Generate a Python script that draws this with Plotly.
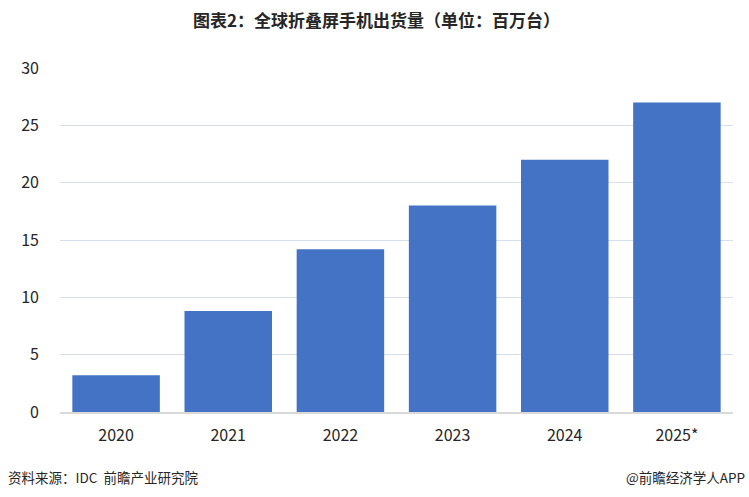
import plotly.graph_objects as go

years = ["2020", "2021", "2022", "2023", "2024", "2025*"]
shipments = [3.2, 8.8, 14.2, 18.0, 22.0, 27.0]
y_ticks = [0, 5, 10, 15, 20, 25, 30]

title_text = "图表2：全球折叠屏手机出货量（单位：百万台）"
source_text = "资料来源：IDC  前瞻产业研究院"
brand_text = "@前瞻经济学人APP"

font_main = "Noto Sans CJK SC, Microsoft YaHei, sans-serif"

W, H = 749, 497
L, R, T, B = 60, 16, 68, 85
pw, ph = W - L - R, H - T - B


def px(x):
    return (x - L) / pw


def py(y):
    return (H - B - y) / ph


fig = go.Figure()
fig.add_trace(go.Bar(
    x=years, y=shipments,
    marker=dict(color="#4472C4", line=dict(width=0)),
    hoverinfo="x+y",
))

fig.update_layout(
    width=W, height=H,
    margin=dict(l=L, r=R, t=T, b=B),
    paper_bgcolor="white", plot_bgcolor="white",
    bargap=0.22,
    showlegend=False,
    font=dict(family=font_main, color="#262626", size=14),
    xaxis=dict(
        showgrid=False,
        showline=True, linecolor="#D9D9D9", linewidth=2,
        ticks="", tickfont=dict(size=16, color="#262626"),
        ticklabelstandoff=8,
    ),
    yaxis=dict(
        range=[0, 30], tickvals=y_ticks,
        showgrid=True, gridcolor="#D6DFEE", gridwidth=1,
        zeroline=False, showline=False, ticks="",
        tickfont=dict(size=16, color="#262626"),
        ticklabelstandoff=20,
    ),
    annotations=[
        dict(text="<b>" + title_text + "</b>", x=px(376), y=py(20),
             xref="paper", yref="paper", xanchor="center", yanchor="middle",
             showarrow=False, font=dict(size=17, color="#262626", family=font_main)),
        dict(text=source_text, x=px(6), y=py(477),
             xref="paper", yref="paper", xanchor="left", yanchor="middle",
             showarrow=False, font=dict(size=13.5, color="#262626", family=font_main)),
        dict(text=brand_text, x=px(747), y=py(477),
             xref="paper", yref="paper", xanchor="right", yanchor="middle",
             showarrow=False, font=dict(size=13.5, color="#262626", family=font_main)),
    ],
)

fig.write_html("out.html")
